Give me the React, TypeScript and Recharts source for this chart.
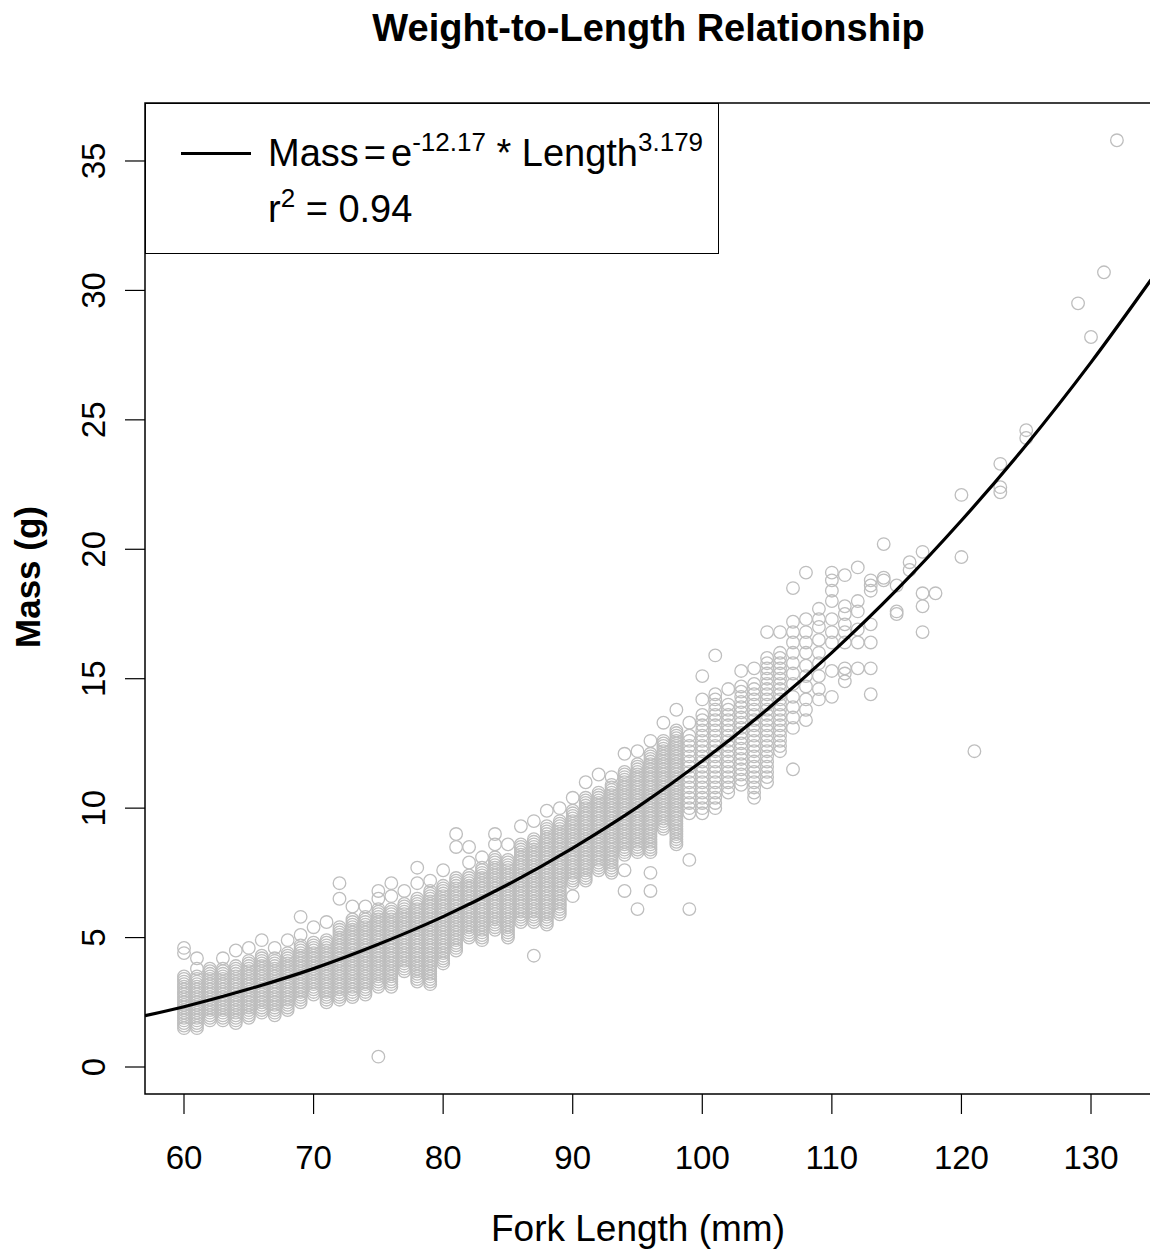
import React from "react";
import { ComposedChart, Scatter, Line, XAxis, YAxis, ReferenceArea } from "recharts";

// axis ticks
const xTicks = [60, 70, 80, 90, 100, 110, 120, 130];
const yTicks = [0, 5, 10, 15, 20, 25, 30, 35];
const xDomain = [56.99, 134.63];
const yDomain = [-1.043, 37.24];

// fork length (mm) columns
const lengthsMm = [
  60, 61, 62, 63, 64, 65, 66, 67, 68, 69, 70, 71, 72, 73, 74, 75, 76, 77, 78, 79,
  80, 81, 82, 83, 84, 85, 86, 87, 88, 89, 90, 91, 92, 93, 94, 95, 96, 97, 98, 99,
  100, 101, 102, 103, 104, 105, 106, 107, 108, 109, 110, 111, 112, 113, 114, 115,
  116, 117, 118, 120, 121, 123, 125, 129, 130, 131, 132,
];
// masses in tenths of a gram, one circle per value, stacked in each column
const massesDg = [
  [15, 16, 17, 18, 19, 20, 21, 22, 23, 24, 25, 26, 27, 28, 29, 30, 31, 32, 33, 34, 35, 44, 46],
  [15, 16, 17, 18, 19, 20, 21, 22, 23, 24, 25, 26, 27, 28, 29, 30, 31, 32, 33, 34, 35, 38, 42],
  [18, 19, 20, 21, 22, 23, 24, 25, 26, 27, 28, 29, 30, 31, 32, 33, 34, 35, 36, 37, 38],
  [18, 19, 20, 21, 22, 23, 24, 25, 26, 27, 28, 29, 30, 31, 32, 33, 34, 35, 36, 37, 38, 42],
  [17, 18, 19, 20, 21, 22, 23, 24, 25, 26, 27, 28, 29, 30, 31, 32, 33, 34, 35, 36, 37, 38, 39, 45],
  [19, 20, 21, 22, 23, 24, 25, 26, 27, 28, 29, 30, 31, 32, 33, 34, 35, 36, 37, 38, 39, 40, 41, 46],
  [21, 22, 23, 24, 25, 26, 27, 28, 29, 30, 31, 32, 33, 34, 35, 36, 37, 38, 39, 40, 41, 42, 43, 49],
  [20, 21, 22, 23, 24, 25, 26, 27, 28, 29, 30, 31, 32, 33, 34, 35, 36, 37, 38, 39, 40, 41, 42, 46],
  [22, 23, 24, 25, 26, 27, 28, 29, 30, 31, 32, 33, 34, 35, 36, 37, 38, 39, 40, 41, 42, 43, 44, 49],
  [25, 26, 27, 28, 29, 30, 31, 32, 33, 34, 35, 36, 37, 38, 39, 40, 41, 42, 43, 44, 45, 46, 47, 51, 58],
  [28, 29, 30, 31, 32, 33, 34, 35, 36, 37, 38, 39, 40, 41, 42, 43, 44, 45, 46, 47, 48, 54],
  [25, 26, 27, 28, 29, 30, 31, 32, 33, 34, 35, 36, 37, 38, 39, 40, 41, 42, 43, 44, 45, 46, 47, 48, 49, 56],
  [26, 27, 28, 29, 30, 31, 32, 33, 34, 35, 36, 37, 38, 39, 40, 41, 42, 43, 44, 45, 46, 47, 48, 49, 50, 51, 52, 53, 54, 65, 71],
  [27, 28, 29, 30, 31, 32, 33, 34, 35, 36, 37, 38, 39, 40, 41, 42, 43, 44, 45, 46, 47, 48, 49, 50, 51, 52, 53, 54, 55, 56, 57, 62],
  [28, 29, 30, 31, 32, 33, 34, 35, 36, 37, 38, 39, 40, 41, 42, 43, 44, 45, 46, 47, 48, 49, 50, 51, 52, 53, 54, 55, 56, 57, 58, 62],
  [4, 31, 32, 33, 34, 35, 36, 37, 38, 39, 40, 41, 42, 43, 44, 45, 46, 47, 48, 49, 50, 51, 52, 53, 54, 55, 56, 57, 58, 59, 60, 61, 65, 68],
  [31, 32, 33, 34, 35, 36, 37, 38, 39, 40, 41, 42, 43, 44, 45, 46, 47, 48, 49, 50, 51, 52, 53, 54, 55, 56, 57, 58, 59, 60, 61, 66, 71],
  [37, 38, 39, 40, 41, 42, 43, 44, 45, 46, 47, 48, 49, 50, 51, 52, 53, 54, 55, 56, 57, 58, 59, 60, 61, 62, 63, 68],
  [33, 34, 35, 36, 37, 38, 39, 40, 41, 42, 43, 44, 45, 46, 47, 48, 49, 50, 51, 52, 53, 54, 55, 56, 57, 58, 59, 60, 61, 62, 63, 64, 65, 71, 77],
  [32, 33, 34, 35, 36, 37, 38, 39, 40, 41, 42, 43, 44, 45, 46, 47, 48, 49, 50, 51, 52, 53, 54, 55, 56, 57, 58, 59, 60, 61, 62, 63, 64, 65, 66, 67, 68, 72],
  [40, 41, 42, 43, 44, 45, 46, 47, 48, 49, 50, 51, 52, 53, 54, 55, 56, 57, 58, 59, 60, 61, 62, 63, 64, 65, 66, 67, 68, 69, 70, 76],
  [45, 46, 47, 48, 49, 50, 51, 52, 53, 54, 55, 56, 57, 58, 59, 60, 61, 62, 63, 64, 65, 66, 67, 68, 69, 70, 71, 72, 73, 85, 90],
  [50, 51, 52, 53, 54, 55, 56, 57, 58, 59, 60, 61, 62, 63, 64, 65, 66, 67, 68, 69, 70, 71, 72, 73, 74, 79, 85],
  [49, 50, 51, 52, 53, 54, 55, 56, 57, 58, 59, 60, 61, 62, 63, 64, 65, 66, 67, 68, 69, 70, 71, 72, 73, 74, 75, 76, 77, 81],
  [53, 54, 55, 56, 57, 58, 59, 60, 61, 62, 63, 64, 65, 66, 67, 68, 69, 70, 71, 72, 73, 74, 75, 76, 77, 78, 79, 80, 81, 86, 90],
  [50, 51, 52, 53, 54, 55, 56, 57, 58, 59, 60, 61, 62, 63, 64, 65, 66, 67, 68, 69, 70, 71, 72, 73, 74, 75, 76, 77, 78, 79, 80, 86],
  [56, 57, 58, 59, 60, 61, 62, 63, 64, 65, 66, 67, 68, 69, 70, 71, 72, 73, 74, 75, 76, 77, 78, 79, 80, 81, 82, 83, 84, 85, 86, 93],
  [43, 56, 57, 58, 59, 60, 61, 62, 63, 64, 65, 66, 67, 68, 69, 70, 71, 72, 73, 74, 75, 76, 77, 78, 79, 80, 81, 82, 83, 84, 85, 86, 87, 88, 95],
  [55, 56, 57, 58, 59, 60, 61, 62, 63, 64, 65, 66, 67, 68, 69, 70, 71, 72, 73, 74, 75, 76, 77, 78, 79, 80, 81, 82, 83, 84, 85, 86, 87, 88, 89, 90, 91, 92, 93, 99],
  [59, 60, 61, 62, 63, 64, 65, 66, 67, 68, 69, 70, 71, 72, 73, 74, 75, 76, 77, 78, 79, 80, 81, 82, 83, 84, 85, 86, 87, 88, 89, 90, 91, 92, 93, 94, 95, 100],
  [66, 71, 72, 73, 74, 75, 76, 77, 78, 79, 80, 81, 82, 83, 84, 85, 86, 87, 88, 89, 90, 91, 92, 93, 94, 95, 96, 97, 98, 99, 104],
  [72, 73, 74, 75, 76, 77, 78, 79, 80, 81, 82, 83, 84, 85, 86, 87, 88, 89, 90, 91, 92, 93, 94, 95, 96, 97, 98, 99, 100, 101, 102, 103, 104, 110],
  [76, 77, 78, 79, 80, 81, 82, 83, 84, 85, 86, 87, 88, 89, 90, 91, 92, 93, 94, 95, 96, 97, 98, 99, 100, 101, 102, 103, 104, 105, 106, 113],
  [75, 76, 77, 78, 79, 80, 81, 82, 83, 84, 85, 86, 87, 88, 89, 90, 91, 92, 93, 94, 95, 96, 97, 98, 99, 100, 101, 102, 103, 104, 105, 106, 107, 108, 109, 112],
  [68, 76, 82, 83, 84, 85, 86, 87, 88, 89, 90, 91, 92, 93, 94, 95, 96, 97, 98, 99, 100, 101, 102, 103, 104, 105, 106, 107, 108, 109, 110, 111, 112, 113, 114, 121],
  [61, 83, 84, 85, 86, 87, 88, 89, 90, 91, 92, 93, 94, 95, 96, 97, 98, 99, 100, 101, 102, 103, 104, 105, 106, 107, 108, 109, 110, 111, 112, 113, 114, 115, 116, 117, 122],
  [68, 75, 83, 84, 85, 86, 87, 88, 89, 90, 91, 92, 93, 94, 95, 96, 97, 98, 99, 100, 101, 102, 103, 104, 105, 106, 107, 108, 109, 110, 111, 112, 113, 114, 115, 116, 117, 118, 119, 120, 121, 126],
  [92, 93, 94, 95, 96, 97, 98, 99, 100, 101, 102, 103, 104, 105, 106, 107, 108, 109, 110, 111, 112, 113, 114, 115, 116, 117, 118, 119, 120, 121, 122, 123, 124, 125, 126, 133],
  [86, 87, 88, 89, 90, 91, 92, 93, 94, 95, 96, 97, 98, 99, 100, 101, 102, 103, 104, 105, 106, 107, 108, 109, 110, 111, 112, 113, 114, 115, 116, 117, 118, 119, 120, 121, 122, 123, 124, 125, 126, 127, 128, 129, 130, 138],
  [61, 80, 98, 100, 102, 104, 106, 108, 110, 112, 114, 116, 118, 120, 122, 124, 126, 128, 133],
  [98, 100, 102, 104, 106, 108, 110, 112, 114, 116, 118, 120, 122, 124, 126, 128, 130, 132, 134, 136, 142, 151],
  [100, 102, 104, 106, 108, 110, 112, 114, 116, 118, 120, 122, 124, 126, 128, 130, 132, 134, 136, 138, 140, 142, 144, 159],
  [106, 108, 110, 112, 114, 116, 118, 120, 122, 124, 126, 128, 130, 132, 134, 136, 138, 140, 146],
  [109, 111, 113, 115, 117, 119, 121, 123, 125, 127, 129, 131, 133, 135, 137, 139, 141, 143, 145, 147, 153],
  [104, 106, 108, 110, 112, 114, 116, 118, 120, 122, 124, 126, 128, 130, 132, 134, 136, 138, 140, 142, 144, 146, 148, 154],
  [110, 112, 114, 116, 118, 120, 122, 124, 126, 128, 130, 132, 134, 136, 138, 140, 142, 144, 146, 148, 150, 152, 154, 156, 158, 168],
  [122, 124, 126, 128, 130, 132, 134, 136, 138, 140, 142, 144, 146, 148, 150, 152, 154, 156, 158, 160, 168],
  [115, 131, 135, 139, 143, 148, 152, 156, 160, 164, 168, 172, 185],
  [134, 138, 142, 147, 151, 155, 160, 164, 168, 173, 191],
  [142, 146, 151, 156, 160, 165, 170, 173, 177],
  [143, 153, 164, 168, 173, 180, 184, 188, 191],
  [149, 152, 154, 164, 168, 171, 175, 178, 190],
  [154, 164, 169, 176, 180, 193],
  [144, 154, 164, 171, 184, 186, 188],
  [188, 189, 202],
  [175, 176, 186],
  [192, 195],
  [168, 178, 183, 199],
  [183],
  [197, 221],
  [122],
  [222, 224, 233],
  [243, 246],
  [295],
  [282],
  [307],
  [358],
];

// fitted curve
const fitLengths = [56.99, 60, 65, 70, 75, 80, 85, 90, 95, 100, 105, 110, 115, 120, 125, 130, 134.63];
const fitMasses = [1.98, 2.33, 3.01, 3.8, 4.74, 5.81, 7.05, 8.46, 10.04, 11.82, 13.81, 16.01, 18.43, 21.11, 24.03, 27.22, 30.41];

const points = lengthsMm.flatMap((len, i) => massesDg[i].map((m) => ({ x: len, y: m / 10 })));
const fitData = fitLengths.map((len, i) => ({ x: len, y: fitMasses[i] }));

const FONT = '"Liberation Sans", Arial, sans-serif';

const Ring = (props: any) => (
  <circle cx={props.cx} cy={props.cy} r={6.3} fill="none" stroke="#bebebe" strokeWidth={1.3} />
);

const XTick = ({ x, y, payload }: any) => (
  <text x={x} y={y} dy={53} textAnchor="middle" fontSize={33} fontFamily={FONT} fill="#000">
    {payload.value}
  </text>
);

const YTick = ({ x, y, payload }: any) => {
  const bx = x - 18;
  return (
    <text
      x={bx}
      y={y}
      textAnchor="middle"
      fontSize={33}
      fontFamily={FONT}
      fill="#000"
      transform={`rotate(-90, ${bx}, ${y})`}
    >
      {payload.value}
    </text>
  );
};

const supStyle = { fontSize: 26, verticalAlign: 15, lineHeight: 0 };

export default function App() {
  return (
    <div style={{ position: "relative", width: 1150, height: 1251, overflow: "hidden", background: "#fff" }}>
      <style>{`body{margin:0;}`}</style>
      <div
        style={{
          position: "absolute",
          top: 8,
          left: 0,
          width: 1297,
          textAlign: "center",
          fontFamily: FONT,
          fontWeight: "bold",
          fontSize: 38,
          lineHeight: "40px",
        }}
      >
        Weight-to-Length Relationship
      </div>

      <ComposedChart
        width={1160}
        height={1251}
        margin={{ top: 103, right: 9, bottom: 0, left: 0 }}
        style={{ position: "absolute", top: 0, left: 0 }}
      >
        <XAxis
          type="number"
          dataKey="x"
          domain={xDomain}
          ticks={xTicks}
          allowDataOverflow
          height={157}
          axisLine={false}
          tickSize={20}
          tickLine={{ stroke: "#000", strokeWidth: 1.2 }}
          tick={<XTick />}
          label={() => (
            <text x={638} y={1241} textAnchor="middle" fontSize={37} fontFamily={FONT} fill="#000">
              Fork Length (mm)
            </text>
          )}
        />
        <YAxis
          type="number"
          dataKey="y"
          domain={yDomain}
          ticks={yTicks}
          allowDataOverflow
          width={145}
          axisLine={false}
          tickSize={20}
          tickLine={{ stroke: "#000", strokeWidth: 1.2 }}
          tick={<YTick />}
          label={() => (
            <text
              x={40}
              y={577}
              textAnchor="middle"
              fontSize={35}
              fontWeight="bold"
              fontFamily={FONT}
              fill="#000"
              transform="rotate(-90, 40, 577)"
            >
              Mass (g)
            </text>
          )}
        />
        <Scatter data={points} shape={<Ring />} isAnimationActive={false} />
        <Line
          data={fitData}
          dataKey="y"
          type="monotone"
          stroke="#000"
          strokeWidth={3.2}
          dot={false}
          activeDot={false}
          isAnimationActive={false}
          zIndex={700}
        />
        <ReferenceArea
          x1={xDomain[0]}
          x2={xDomain[1]}
          y1={yDomain[0]}
          y2={yDomain[1]}
          fill="none"
          fillOpacity={0}
          stroke="#000"
          strokeWidth={1.5}
          ifOverflow="visible"
          zIndex={800}
        />
      </ComposedChart>

      {/* legend box */}
      <div
        style={{
          position: "absolute",
          left: 145,
          top: 103,
          width: 574,
          height: 151,
          boxSizing: "border-box",
          border: "1.5px solid #000",
          background: "#fff",
          fontFamily: FONT,
          color: "#000",
        }}
      >
        <div style={{ position: "absolute", left: 35, top: 48, width: 70, height: 3, background: "#000" }} />
        <div style={{ position: "absolute", left: 122, top: 28, fontSize: 38, lineHeight: "42px", whiteSpace: "nowrap" }}>
          Mass<span style={{ margin: "0 5px" }}>=</span>e<sup style={supStyle}>-12.17</sup> * Length
          <sup style={supStyle}>3.179</sup>
        </div>
        <div style={{ position: "absolute", left: 122, top: 84, fontSize: 38, lineHeight: "42px", whiteSpace: "nowrap" }}>
          r<sup style={supStyle}>2</sup> = 0.94
        </div>
      </div>
    </div>
  );
}
